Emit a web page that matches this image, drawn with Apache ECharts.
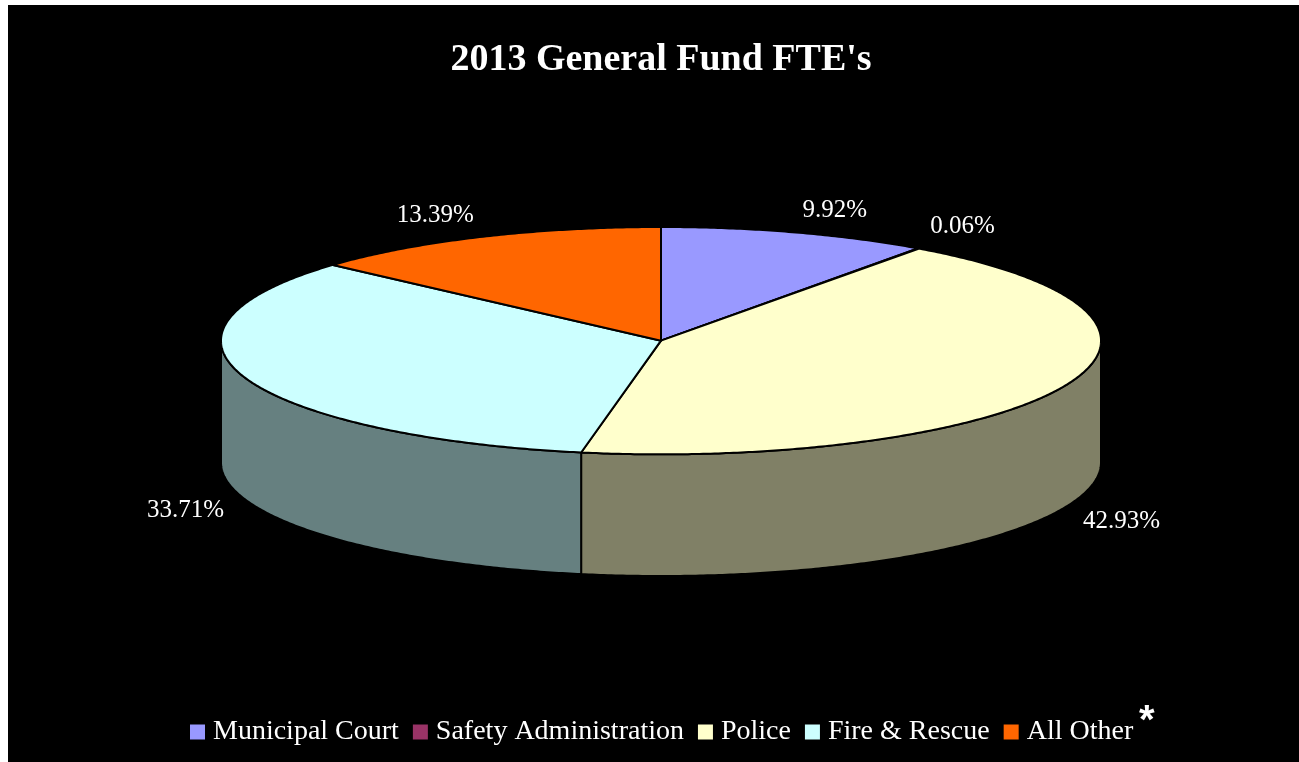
<!DOCTYPE html>
<html>
<head>
<meta charset="utf-8">
<title>2013 General Fund FTE's</title>
<script src="https://cdn.jsdelivr.net/npm/echarts@6/dist/echarts.min.js"></script>
<style>
  html, body { margin: 0; padding: 0; background: #fff; overflow: hidden; }
  #chart { position: absolute; left: 8px; top: 5px; width: 1291px; height: 757px; }
</style>
</head>
<body>
<div id="chart"></div>
<script>
const categories = ['Municipal Court', 'Safety Administration', 'Police', 'Fire & Rescue', 'All Other'];
const shares = [9.92, 0.06, 42.93, 33.71, 13.39];
const topColors = ['#9999ff', '#993366', '#ffffcc', '#ccffff', '#ff6600'];
const sideColors = ['#4d4d80', '#4d1a33', '#808066', '#668080', '#803300'];

// label offset in px from the middle of each slice's rim
const labelNudge = [[39, -22], [44, -22], [56, 136], [-59, 133], [-46, -21]];

// wall height in y axis units, rim radius is 1
const depth = 1.07;
const total = shares.reduce((a, b) => a + b, 0);

const starts = [];
shares.reduce((sum, s, i) => { starts[i] = sum; return sum + s; }, 0);

const rim = (deg) => [Math.sin(deg * Math.PI / 180), Math.cos(deg * Math.PI / 180)];

const arc = (from, to) => {
  const pts = [];
  const n = Math.max(2, Math.ceil((to - from) * 2));
  for (let k = 0; k <= n; k++) pts.push(rim(from + (to - from) * k / n));
  return pts;
};

const renderSlice = (index) => (params, api) => {
  const from = api.value(1) / total * 360;
  const to = from + api.value(0) / total * 360;
  const children = [];

  // front wall, only the part between 3 and 9 o'clock shows
  const wallFrom = Math.max(from, 90);
  const wallTo = Math.min(to, 270);
  if (wallTo > wallFrom) {
    const edge = arc(wallFrom, wallTo);
    const lower = edge.slice().reverse().map((p) => [p[0], p[1] - depth]);
    children.push({
      type: 'polygon',
      shape: { points: edge.concat(lower).map((p) => api.coord(p)) },
      style: { fill: sideColors[index], stroke: '#000', lineWidth: 2, lineJoin: 'round' }
    });
  }

  children.push({
    type: 'polygon',
    shape: { points: [[0, 0]].concat(arc(from, to)).map((p) => api.coord(p)) },
    style: { fill: topColors[index], stroke: '#000', lineWidth: 2, lineJoin: 'round' }
  });

  const mid = api.coord(rim((from + to) / 2));
  children.push({
    type: 'text',
    z2: 10,
    style: {
      x: mid[0] + labelNudge[index][0],
      y: mid[1] + labelNudge[index][1],
      text: api.value(0).toFixed(2) + '%',
      fill: '#fff',
      font: '25px "Liberation Serif", serif',
      align: 'center',
      verticalAlign: 'middle'
    }
  });

  return { type: 'group', children: children };
};

const myChart = echarts.init(document.getElementById('chart'));

const option = {
  backgroundColor: '#000',
  animation: false,
  title: {
    text: "2013 General Fund FTE's",
    left: 648,
    top: 31,
    textAlign: 'center',
    textStyle: { color: '#fff', fontFamily: '"Liberation Serif", serif', fontSize: 38, fontWeight: 'bold' }
  },
  legend: {
    left: 177,
    top: 708,
    itemWidth: 15,
    itemHeight: 15,
    itemGap: 14,
    icon: 'rect',
    selectedMode: false,
    data: categories,
    textStyle: { color: '#fff', fontFamily: '"Liberation Serif", serif', fontSize: 28, padding: [0, 0, 0, 3] }
  },
  grid: { left: 213, top: 222, width: 880, height: 349 },
  xAxis: { type: 'value', min: -1, max: 1, show: false },
  yAxis: { type: 'value', min: -1 - depth, max: 1, show: false },
  graphic: [{
    type: 'text',
    left: 1131,
    top: 697,
    style: { text: '*', fill: '#fff', font: 'bold 40px "Liberation Sans", sans-serif' }
  }],
  series: categories.map((name, i) => ({
    name: name,
    type: 'custom',
    coordinateSystem: 'cartesian2d',
    clip: false,
    silent: true,
    itemStyle: { color: topColors[i] },
    renderItem: renderSlice(i),
    encode: { x: 0, y: 1 },
    data: [[shares[i], starts[i]]]
  }))
};

myChart.setOption(option);
</script>
</body>
</html>
